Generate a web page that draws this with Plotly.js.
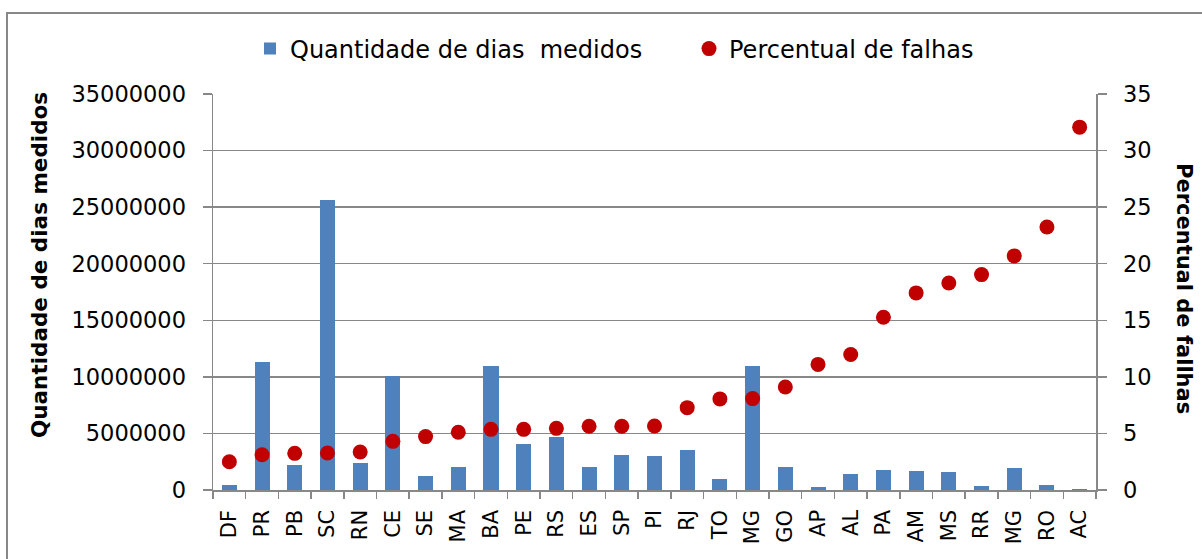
<!DOCTYPE html>
<html>
<head>
<meta charset="utf-8">
<script src="https://cdn.plot.ly/plotly-3.0.1.min.js"></script>
<style>html,body{margin:0;padding:0;background:#fff;}#chart{width:1202px;height:559px;}</style>
</head>
<body>
<div id="chart"></div>
<script>
var states = ['DF','PR','PB','SC','RN','CE','SE','MA','BA','PE','RS','ES','SP','PI','RJ','TO','MG','GO','AP','AL','PA','AM','MS','RR','MG','RO','AC'];
var diasMedidos = [400000, 11300000, 2250000, 25600000, 2350000, 10050000, 1200000, 2000000, 11000000, 4070000, 4650000, 2030000, 3120000, 2970000, 3540000, 940000, 10930000, 2030000, 270000, 1440000, 1770000, 1650000, 1560000, 380000, 1940000, 440000, 100000];
var percentualFalhas = [2.5, 3.12, 3.24, 3.27, 3.36, 4.3, 4.72, 5.1, 5.36, 5.36, 5.45, 5.63, 5.63, 5.66, 7.28, 8.05, 8.08, 9.1, 11.1, 11.97, 15.27, 17.42, 18.3, 19.04, 20.69, 23.25, 32.07];
var leftTicks = [0, 5000000, 10000000, 15000000, 20000000, 25000000, 30000000, 35000000];
var rightTicks = [0, 5, 10, 15, 20, 25, 30, 35];

var pos = states.map(function(s, i){ return i; });
var FONT = 'DejaVu Sans, sans-serif';
var GRID = '#888888';

var traces = [
  {
    type: 'bar', name: 'Quantidade de dias  medidos',
    x: pos, y: diasMedidos, width: 0.46,
    marker: {color: '#4f81bd'}, yaxis: 'y'
  },
  {
    type: 'scatter', mode: 'markers', name: 'Percentual de falhas',
    x: pos, y: percentualFalhas,
    marker: {color: '#c00000', size: 15}, yaxis: 'y2'
  }
];

var layout = {
  width: 1202, height: 559,
  margin: {l: 213, r: 106, t: 94, b: 69},
  paper_bgcolor: '#fff', plot_bgcolor: '#fff',
  font: {family: FONT, color: '#000', size: 21},
  showlegend: true,
  legend: {
    orientation: 'h', xref: 'container', yref: 'container',
    x: 250 / 1202, xanchor: 'left', y: 1 - 49 / 559, yanchor: 'middle',
    bgcolor: 'rgba(0,0,0,0)',
    font: {family: FONT, size: 24, color: '#000'}, itemwidth: 30, tracegroupgap: 0,
    entrywidth: 394
  },
  bargap: 0,
  xaxis: {
    range: [-0.5, states.length - 0.5],
    tickmode: 'array', tickvals: pos, ticktext: states,
    tickangle: -90, ticks: '', showgrid: false, zeroline: false,
    showline: true, linecolor: GRID, linewidth: 1.5,
    tickfont: {family: FONT, size: 21, color: '#000'},
    ticklabelstandoff: 10,
    minor: {tick0: -0.5, dtick: 1, ticks: 'outside', ticklen: 7, tickcolor: GRID, tickwidth: 1.5, showgrid: false},
    fixedrange: true
  },
  yaxis: {
    range: [0, 35000000], tickmode: 'array', tickvals: leftTicks, tickformat: 'd',
    showgrid: true, gridcolor: GRID, gridwidth: 1.5, zeroline: false,
    showline: true, linecolor: GRID, linewidth: 1.5,
    ticks: 'outside', ticklen: 9, tickcolor: GRID, tickwidth: 1.5,
    tickfont: {family: FONT, size: 22.5, color: '#000'},
    ticklabelstandoff: 12
  },
  yaxis2: {
    range: [0, 35], tickmode: 'array', tickvals: rightTicks,
    overlaying: 'y', side: 'right', showgrid: false, zeroline: false,
    showline: true, linecolor: GRID, linewidth: 1.5,
    ticks: 'outside', ticklen: 9, tickcolor: GRID, tickwidth: 1.5,
    tickfont: {family: FONT, size: 22.5, color: '#000'},
    ticklabelstandoff: 12
  },
  annotations: [
    {text: '<b>Quantidade de dias medidos</b>', xref: 'paper', yref: 'paper',
     x: (39 - 213) / 883, y: (490 - 265) / 396, xanchor: 'center', yanchor: 'middle',
     textangle: -90, showarrow: false, font: {family: FONT, size: 21.5, color: '#000'}},
    {text: '<b>Percentual de fallhas</b>', xref: 'paper', yref: 'paper',
     x: (1184 - 213) / 883, y: (490 - 288) / 396, xanchor: 'center', yanchor: 'middle',
     textangle: 90, showarrow: false, font: {family: FONT, size: 21, color: '#000'}}
  ],
  shapes: [
    {type: 'rect', xref: 'paper', yref: 'paper',
     x0: (7 - 213) / 883, x1: 1.3, y0: -0.5, y1: (490 - 13) / 396,
     line: {color: '#888', width: 2}, fillcolor: 'rgba(0,0,0,0)', layer: 'below'}
  ]
};

Plotly.newPlot('chart', traces, layout, {displayModeBar: false, staticPlot: true});
</script>
</body>
</html>
